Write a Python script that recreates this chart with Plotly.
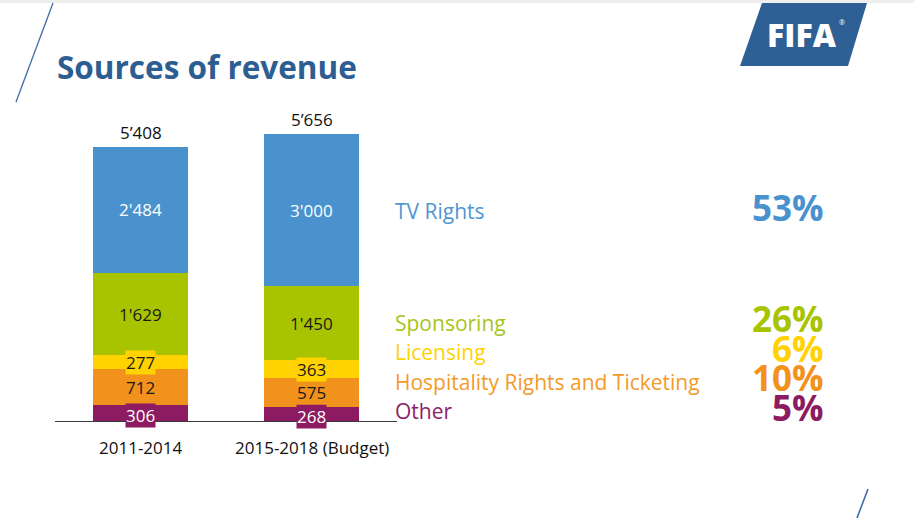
import plotly.graph_objects as go

# ---------------- data ----------------
periods = ["2011-2014", "2015-2018 (Budget)"]
other = [306, 268]
hospitality = [712, 575]
licensing = [277, 363]
sponsoring = [1629, 1450]
tv_rights = [2484, 3000]
source_names = ["Other", "Hospitality Rights and Ticketing", "Licensing", "Sponsoring", "TV Rights"]
share_labels = ["5%", "10%", "6%", "26%", "53%"]  # same order as source_names
title_text = "Sources of revenue"

# ---------------- styles ----------------
W, H = 914, 518
FONT = "Open Sans, Noto Sans, sans-serif"
colors = ["#8C1B62", "#F0921C", "#FFD200", "#A8C400", "#4A92CE"]
text_colors = ["#8C2266", "#F39A2B", "#FFD200", "#A8C41A", "#5096D0"]
label_font_colors = ["white", "#1a1a1a", "#1a1a1a", "#1a1a1a", "white"]
legend_y_px = [411, 382, 352, 323, 211]
share_y_px = [407, 377, 348, 318, 207]


def px(x):
    return x / W


def py(y):
    return 1 - y / H


series = [other, hospitality, licensing, sponsoring, tv_rights]

fig = go.Figure()
for name, vals, col in zip(source_names, series, colors):
    fig.add_bar(x=periods, y=vals, name=name, marker=dict(color=col, line=dict(width=0)),
                width=0.555, hoverinfo="name+y")

annotations = []
# segment labels
for i, p in enumerate(periods):
    base = 0
    for k, vals in enumerate(series):
        v = vals[i]
        mid = base + v / 2
        base += v
        annotations.append(dict(
            x=p, y=mid, xref="x", yref="y",
            text=f"{v:,}".replace(",", "'"),
            showarrow=False,
            font=dict(family=FONT, size=17, color=label_font_colors[k]),
            bgcolor=colors[k], borderpad=0,
            yshift=-2 if k == 0 else 0,
        ))
    total = base
    annotations.append(dict(
        x=p, y=total, xref="x", yref="y", yanchor="bottom",
        text=f"{total:,}".replace(",", "\u2019"),
        showarrow=False, yshift=1,
        font=dict(family=FONT, size=17, color="#111111"),
    ))
    annotations.append(dict(
        x=p, y=py(447), xref="x", yref="paper", yanchor="middle",
        text=p, showarrow=False,
        font=dict(family=FONT, size=17, color="#111111"),
    ))

# right side legend texts and shares
for k, name in enumerate(source_names):
    annotations.append(dict(
        x=px(393), y=py(legend_y_px[k]), xref="paper", yref="paper",
        xanchor="left", yanchor="middle", text=name, showarrow=False,
        font=dict(family=FONT, size=21, color=text_colors[k]),
    ))
    annotations.append(dict(
        x=px(826), y=py(share_y_px[k]), xref="paper", yref="paper",
        xanchor="right", yanchor="middle", text=share_labels[k], showarrow=False,
        height=29,
        font=dict(family=FONT, size=35, color=colors[k], weight=700),
    ))

# title
annotations.append(dict(
    x=px(55), y=py(67), xref="paper", yref="paper", xanchor="left", yanchor="middle",
    text=title_text, showarrow=False,
    font=dict(family=FONT, size=31.5, color="#2D5E92", weight=700),
))
# FIFA logo text
annotations.append(dict(
    x=px(802), y=py(35), xref="paper", yref="paper", xanchor="center", yanchor="middle",
    text="FIFA", showarrow=False,
    font=dict(family=FONT, size=32, color="white", weight=800),
))
annotations.append(dict(
    x=px(842), y=py(22), xref="paper", yref="paper", xanchor="center", yanchor="middle",
    text="\u00ae", showarrow=False,
    font=dict(family=FONT, size=7, color="white"),
))

shapes = [
    dict(type="rect", xref="paper", yref="paper", x0=0, x1=1, y0=py(3), y1=1,
         fillcolor="#EEEEEE", line=dict(width=0), layer="below"),
    dict(type="line", xref="paper", yref="paper", x0=px(53), y0=py(3), x1=px(16), y1=py(102),
         line=dict(color="#3E6CA8", width=1.3)),
    dict(type="line", xref="paper", yref="paper", x0=px(868), y0=py(489), x1=px(857), y1=py(518),
         line=dict(color="#3E6CA8", width=1.6)),
    dict(type="path", xref="paper", yref="paper",
         path=(f"M {px(762)},{py(3)} L {px(867)},{py(3)} L {px(848)},{py(66)} "
               f"L {px(740)},{py(66)} Z"),
         fillcolor="#2E5F95", line=dict(width=0)),
]

fig.update_layout(
    width=W, height=H, barmode="stack", showlegend=False,
    margin=dict(l=0, r=0, t=0, b=0),
    paper_bgcolor="white", plot_bgcolor="white",
    xaxis=dict(domain=[px(55), px(397)], range=[-0.5, 1.5], showticklabels=False,
               showline=True, linecolor="#3A3A3A", linewidth=1, ticks="",
               showgrid=False, zeroline=False, fixedrange=True),
    yaxis=dict(domain=[(H - 421) / H, (H - 116.8) / H], range=[0, 6000], visible=False,
               showgrid=False, zeroline=False, fixedrange=True),
    annotations=annotations, shapes=shapes,
    font=dict(family=FONT),
)

fig.write_html(
    "out.html",
    config={"displayModeBar": False},
    post_script="document.body.style.margin='0';document.body.style.overflow='hidden';",
)
